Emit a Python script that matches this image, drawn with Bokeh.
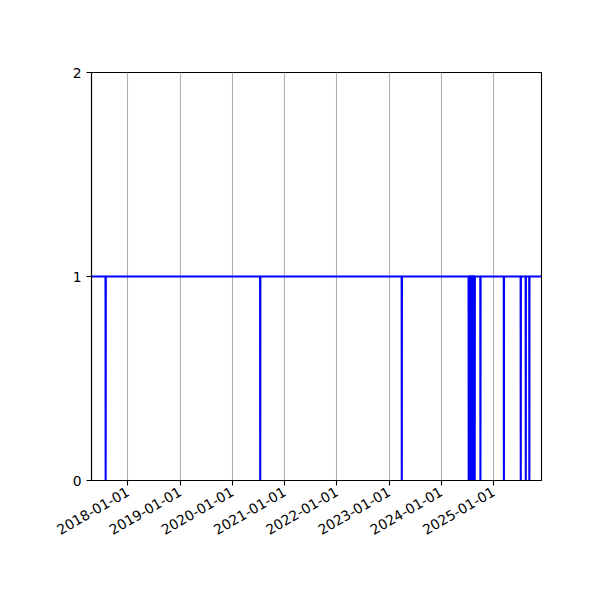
import math
from datetime import datetime, timedelta
from bokeh.plotting import figure
from bokeh.models import FixedTicker, DatetimeTickFormatter, Range1d, ColumnDataSource
from bokeh.embed import file_html
from bokeh.resources import INLINE

# ---- data ----
range_start = "2017-04-21"
range_end = "2025-12-02"
dip_dates = [
    "2017-07-29",
    "2020-07-14",
    "2023-03-31",
    "2024-07-11", "2024-07-14", "2024-07-17", "2024-07-20", "2024-07-23",
    "2024-07-26", "2024-07-29", "2024-08-01", "2024-08-04", "2024-08-07",
    "2024-08-10", "2024-08-13", "2024-08-16", "2024-08-19", "2024-08-22",
    "2024-10-01",
    "2025-03-14",
    "2025-07-10",
    "2025-08-14",
    "2025-09-08",
]
base_value = 1
dip_value = 0
tick_labels = ["2018-01-01", "2019-01-01", "2020-01-01", "2021-01-01",
               "2022-01-01", "2023-01-01", "2024-01-01", "2025-01-01"]
y_ticks = [0, 1, 2]

def d(s):
    return datetime.strptime(s, "%Y-%m-%d")

one_day = timedelta(days=1)
xs = [d(range_start)]
ys = [base_value]
for s in dip_dates:
    t = d(s)
    xs += [t - one_day, t, t + one_day]
    ys += [base_value, dip_value, base_value]
xs.append(d(range_end))
ys.append(base_value)

src = ColumnDataSource(dict(x=xs, y=ys))

p = figure(width=592, height=584, x_axis_type="datetime",
           output_backend="svg", toolbar_location=None,
           x_range=Range1d(d(range_start), d(range_end)),
           y_range=Range1d(y_ticks[0], y_ticks[-1]),
           min_border_left=91, min_border_right=51,
           min_border_top=72, min_border_bottom=104)

p.line("x", "y", source=src, line_color="#0000ff", line_width=2.1)

epoch = datetime(1970, 1, 1)
tick_ms = [(d(s) - epoch).total_seconds() * 1000 for s in tick_labels]
p.xaxis.ticker = FixedTicker(ticks=tick_ms)
fmt = "%Y-%m-%d"
p.xaxis.formatter = DatetimeTickFormatter(
    milliseconds=fmt, seconds=fmt, minsec=fmt, minutes=fmt, hourmin=fmt,
    hours=fmt, days=fmt, months=fmt, years=fmt)
p.xaxis.major_label_orientation = math.pi / 6
p.yaxis.ticker = FixedTicker(ticks=y_ticks)

for ax in (p.xaxis, p.yaxis):
    ax.axis_line_color = "black"
    ax.axis_line_width = 1.1
    ax.major_tick_line_color = "black"
    ax.major_tick_line_width = 1.1
    ax.major_tick_out = 5
    ax.major_tick_in = 0
    ax.minor_tick_line_color = None
    ax.major_label_text_font = "DejaVu Sans"
    ax.major_label_text_font_size = "13.9px"
    ax.major_label_text_color = "black"

p.xgrid.grid_line_color = "#b0b0b0"
p.xgrid.grid_line_width = 1.1
p.xgrid.ticker = FixedTicker(ticks=tick_ms)
p.ygrid.grid_line_color = None
p.outline_line_color = "black"
p.outline_line_width = 1.1
p.outline_line_alpha = 1
p.background_fill_color = "white"
p.border_fill_color = "white"

open("out.html", "w").write(file_html(p, INLINE))
